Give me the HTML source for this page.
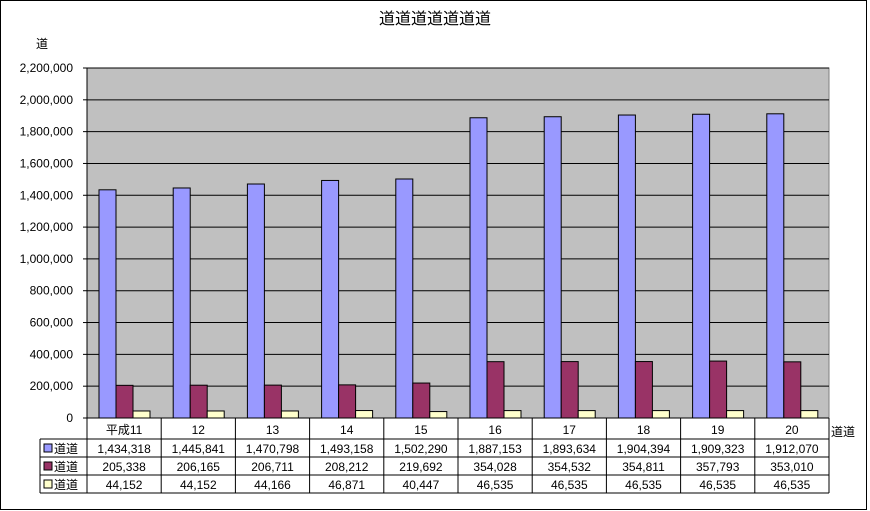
<!DOCTYPE html>
<html><head><meta charset="utf-8"><style>
body{margin:0;background:#fff;}
svg{display:block;font-family:"Liberation Sans","Noto Sans CJK JP",sans-serif;}
</style></head><body>
<svg id="c" width="870" height="511"></svg>
<script>
const categories=["平成11","12","13","14","15","16","17","18","19","20"];
const series1=[1434318,1445841,1470798,1493158,1502290,1887153,1893634,1904394,1909323,1912070];
const series2=[205338,206165,206711,208212,219692,354028,354532,354811,357793,353010];
const series3=[44152,44152,44166,46871,40447,46535,46535,46535,46535,46535];
const seriesNames=["道道","道道","道道"];
const yTicks=[0,200000,400000,600000,800000,1000000,1200000,1400000,1600000,1800000,2000000,2200000];
const colors=["#9999ff","#993366","#ffffcc"];
const NS="http://www.w3.org/2000/svg";
const svg=document.getElementById('c');
const L=87,R=829,T=68,B=418,yMax=2200000;
const cw=(R-L)/categories.length;
const y=v=>B-(v/yMax)*(B-T);
const x=i=>L+i*cw;
function mk(t,a,p){const e=document.createElementNS(NS,t);for(const k in a)e.setAttribute(k,a[k]);(p||svg).appendChild(e);return e;}
const fmt=v=>v.toLocaleString('en-US');
let e;
e=mk('rect',{x:0.5,y:0.5,width:866,height:509,fill:'#fff',stroke:'#000'});


e=mk('text',{x:435,y:24,'text-anchor':'middle','font-size':16});e.textContent='道道道道道道道';


e=mk('text',{x:36,y:48,'font-size':12});e.textContent='道';


e=mk('text',{x:831,y:436,'font-size':12});e.textContent='道道';


e=mk('rect',{x:L,y:T,width:R-L,height:B-T,fill:'#c0c0c0',stroke:'#808080'});


yTicks.forEach(v=>{
 const g=mk('line',{x1:L,x2:R,y1:y(v),y2:y(v),stroke:'#000','stroke-width':1});
 
 
 const tk=mk('line',{x1:L-4,x2:L,y1:y(v),y2:y(v),stroke:'#000'});
 
 
 const t=mk('text',{x:L-14,y:y(v)+4,'text-anchor':'end','font-size':12});t.textContent=fmt(v);
 
 
});
mk('line',{x1:L,x2:L,y1:T,y2:B,stroke:'#000'});
const all=[series1,series2,series3];
all.forEach((s,si)=>{
 s.forEach((v,i)=>{
  const b=mk('rect',{x:x(i)+12+si*17,y:y(v),width:17,height:B-y(v),fill:colors[si],stroke:'#000','stroke-width':1});
  
  
 });
});
// table
const rows=[418,439,457,475,493];
const tl=40;
mk('line',{x1:L,x2:R,y1:rows[0],y2:rows[0],stroke:'#000'});
for(let r=1;r<rows.length;r++){mk('line',{x1:tl,x2:R,y1:rows[r],y2:rows[r],stroke:'#000'});}
mk('line',{x1:tl,x2:tl,y1:rows[1],y2:rows[4],stroke:'#000'});
for(let i=0;i<=categories.length;i++){mk('line',{x1:x(i),x2:x(i),y1:rows[0],y2:rows[4],stroke:'#000'});}
categories.forEach((c,i)=>{
 const t=mk('text',{x:x(i)+cw/2,y:434,'text-anchor':'middle','font-size':12});t.textContent=c;
 
 
});
all.forEach((s,si)=>{
 const ry=rows[si+1];
 const k=mk('rect',{x:44,y:ry+5,width:8,height:8,fill:colors[si],stroke:'#000'});
 
 
 const n=mk('text',{x:54,y:ry+14,'font-size':12});n.textContent=seriesNames[si];
 
 
 s.forEach((v,i)=>{
  const t=mk('text',{x:x(i)+cw/2,y:ry+14,'text-anchor':'middle','font-size':12});t.textContent=fmt(v);
  
  
 });
});
</script>
</body></html>
